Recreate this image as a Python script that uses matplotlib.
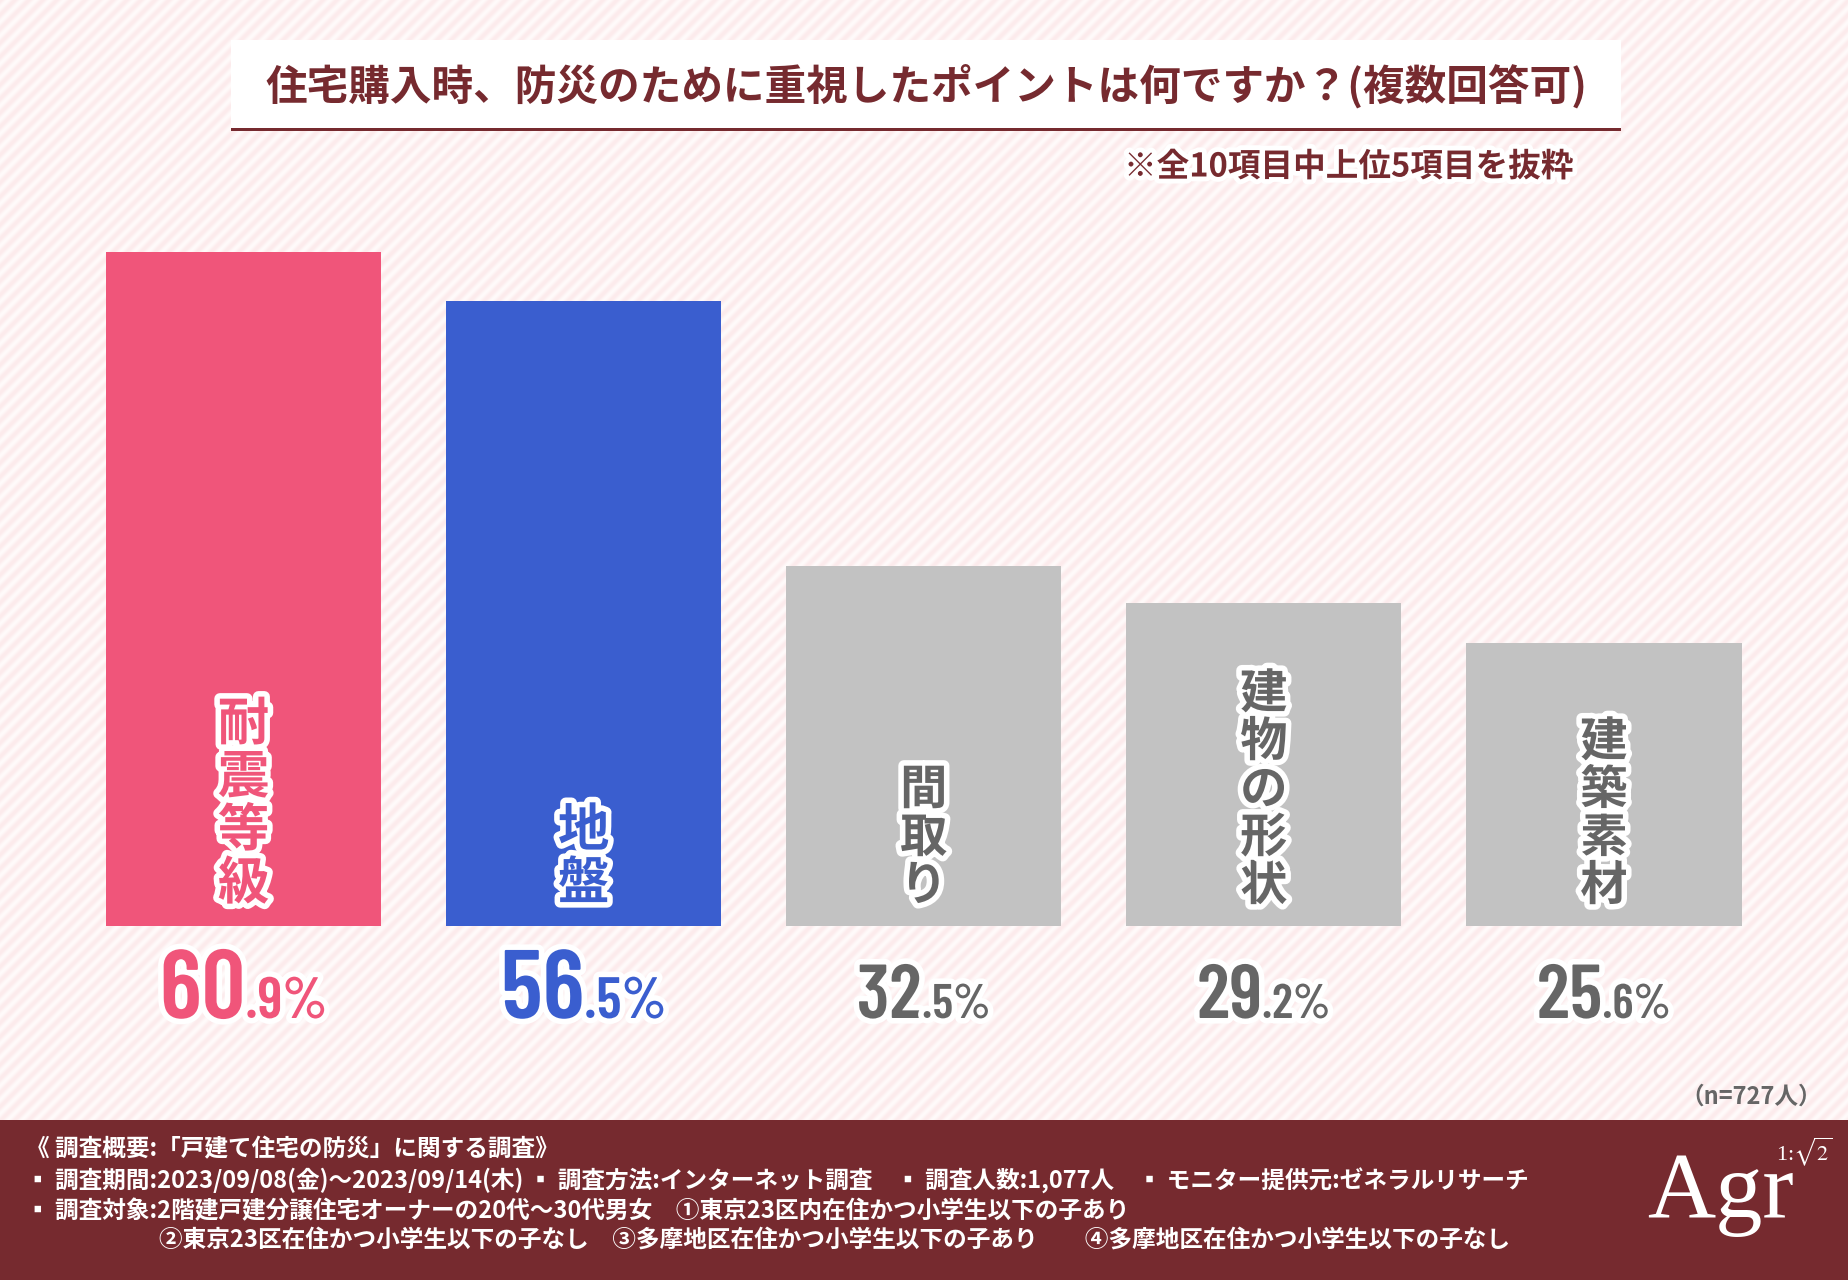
import numpy as np
import matplotlib
matplotlib.use('Agg')
import matplotlib.pyplot as plt
import matplotlib.patheffects as pe
from matplotlib.patches import Rectangle

plt.rcParams['font.family'] = ['Noto Sans CJK JP', 'DejaVu Sans']

W, H = 1849, 1280

# data
categories = ['耐震等級', '地盤', '間取り', '建物の形状', '建築素材']
values = [60.9, 56.5, 32.5, 29.2, 25.6]
bar_colors = ['#f0557a', '#3a5ecf', '#c2c2c2', '#c2c2c2', '#c2c2c2']
text_colors = ['#f0557a', '#3a5ecf', '#666666', '#666666', '#666666']

title = '住宅購入時、防災のために重視したポイントは何ですか？(複数回答可)'
note = '※全10項目中上位5項目を抜粋'
n_label = '（n=727人）'
footer_lines = [
    '《 調査概要:「戸建て住宅の防災」に関する調査》',
    '▪ 調査期間:2023/09/08(金)～2023/09/14(木) ▪ 調査方法:インターネット調査　▪ 調査人数:1,077人　▪ モニター提供元:ゼネラルリサーチ',
    '▪ 調査対象:2階建戸建分譲住宅オーナーの20代～30代男女　①東京23区内在住かつ小学生以下の子あり',
    '②東京23区在住かつ小学生以下の子なし　③多摩地区在住かつ小学生以下の子あり　　④多摩地区在住かつ小学生以下の子なし',
]

maroon = '#762a2f'
num_font = ['Barlow Condensed', 'DejaVu Sans']


def fx(x):
    return x / W


def fy(y):
    return 1 - y / H


fig = plt.figure(figsize=(W / 100, H / 100), dpi=100)

# striped background
bg = fig.add_axes([0, 0, 1, 1], zorder=-10)
rows, cols = np.mgrid[0:H, 0:W]
t = 0.5 + 0.5 * np.cos(2 * np.pi * (rows + cols) / 14.0)
c_light = np.array([255, 250, 250]) / 255
c_dark = np.array([252, 235, 236]) / 255
img = c_light[None, None, :] * (1 - t[..., None]) + c_dark[None, None, :] * t[..., None]
bg.imshow(img, aspect='auto', interpolation='nearest')
bg.axis('off')

# title box
fig.patches.append(Rectangle((fx(231), fy(128)), fx(1621) - fx(231), (128 - 40) / H,
                             transform=fig.transFigure, facecolor='white', edgecolor='none', zorder=1))
fig.patches.append(Rectangle((fx(231), fy(131)), fx(1621) - fx(231), 3 / H,
                             transform=fig.transFigure, facecolor=maroon, edgecolor='none', zorder=2))
fig.text(fx(926), fy(86), title, ha='center', va='center', fontsize=30, weight='bold', color=maroon)

halo = [pe.withStroke(linewidth=7, foreground='white')]
fig.text(fx(1573), fy(167), note, ha='right', va='center', fontsize=23.5, weight='bold',
         color=maroon, path_effects=halo)

# bars
ax = fig.add_axes([fx(73.5), fy(926), 1700.5 / W, 719.5 / H])
ax.patch.set_alpha(0)
x = np.arange(len(categories))
ax.bar(x, values, width=0.809, color=bar_colors)
ax.set_xlim(-0.5, len(categories) - 0.5)
ax.set_ylim(0, 65)
ax.axis('off')

px = 72 / 100  # pixels -> points

# vertical category labels inside bars
for i, cat in enumerate(categories):
    big = i < 2
    step = 53 if big else 48
    fs = 37 if big else 34
    for k, ch in enumerate(reversed(cat)):
        yoff = 16 + step / 2 + k * step
        ax.annotate(ch, xy=(i, 0), xytext=(0, yoff * px), textcoords='offset points',
                    ha='center', va='center', fontsize=fs, weight='bold', color=text_colors[i],
                    path_effects=[pe.withStroke(linewidth=8, foreground='white')])

# value labels: big integer part, smaller decimals
renderer = fig.canvas.get_renderer()
for i, v in enumerate(values):
    whole, dec = f'{v:.1f}'.split('.')
    big = i < 2
    fs1 = 70 if big else 55
    fs2 = 42 if big else 35
    stroke = [pe.withStroke(linewidth=8, foreground='white')]
    t1 = ax.annotate(whole, xy=(i, 0), xytext=(0, -92 * px), textcoords='offset points',
                     ha='left', va='baseline', fontsize=fs1, weight=600, family=num_font,
                     color=text_colors[i], path_effects=stroke)
    t2 = ax.annotate('.' + dec + '%', xy=(i, 0), xytext=(0, -92 * px), textcoords='offset points',
                     ha='left', va='baseline', fontsize=fs2, weight=600, family=num_font,
                     color=text_colors[i], path_effects=stroke)
    w1 = t1.get_window_extent(renderer).width
    w2 = t2.get_window_extent(renderer).width
    start = -(w1 + w2) / 2
    t1.set_position((start * px, -92 * px))
    t2.set_position(((start + w1) * px, -92 * px))

fig.text(fx(1822), fy(1097), n_label, ha='right', va='center', fontsize=17, weight='bold', color='#666666')

# footer
fig.patches.append(Rectangle((0, 0), 1, 160 / H, transform=fig.transFigure,
                             facecolor=maroon, edgecolor='none', zorder=1))
footer_y = [1149, 1181, 1211, 1240]
footer_x = [26, 26, 26, 159]
for line, lx, ly in zip(footer_lines, footer_x, footer_y):
    fig.text(fx(lx), fy(ly), line, ha='left', va='center', fontsize=17, weight='bold', color='white')

# logo
fig.text(fx(1647), fy(1217), 'Agr', ha='left', va='baseline', fontsize=68,
         family='Liberation Serif', color='white')
fig.text(fx(1776), fy(1160), r'1:$\sqrt{2}$', ha='left', va='baseline', fontsize=16,
         family='Liberation Serif', math_fontfamily='stix', color='white')

fig.savefig('out.png', dpi=100)
